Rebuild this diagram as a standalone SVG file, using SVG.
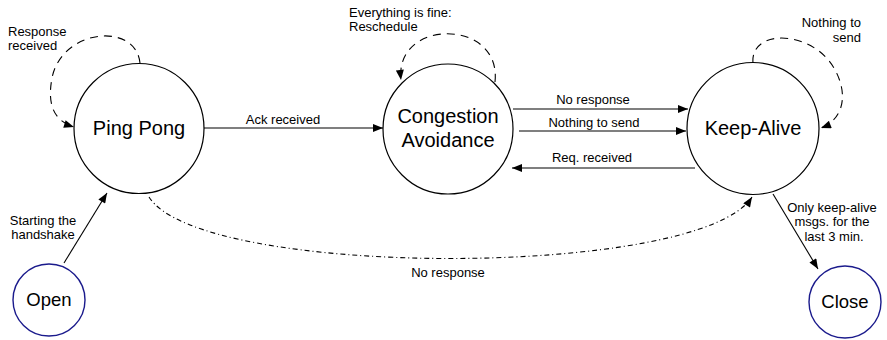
<svg xmlns="http://www.w3.org/2000/svg" width="887" height="340" viewBox="0 0 887 340">
  <defs>
    <marker id="arrow" viewBox="0 0 10 8" refX="10" refY="4" markerWidth="12" markerHeight="8" markerUnits="userSpaceOnUse" orient="auto">
      <path d="M0,0 L10,4 L0,8 Z" fill="#000"/>
    </marker>
    <style>
      .state { fill: #fff; stroke: #000; stroke-width: 1.2; }
      .terminal { fill: #fff; stroke: #1a1a8c; stroke-width: 1.4; }
      .name { font-family: "Liberation Sans", Arial, sans-serif; font-size: 20px; fill: #000; text-anchor: middle; }
      .tname { font-family: "Liberation Sans", Arial, sans-serif; font-size: 18.5px; fill: #000; text-anchor: middle; }
      .lbl { font-family: "Liberation Sans", Arial, sans-serif; font-size: 13px; fill: #000; }
      .edge { fill: none; stroke: #000; stroke-width: 1.1; marker-end: url(#arrow); }
      .loop { fill: none; stroke: #000; stroke-width: 1.1; stroke-dasharray: 8 6; marker-end: url(#arrow); }
      .dashdot { fill: none; stroke: #000; stroke-width: 1.1; stroke-dasharray: 5 3 1 3; marker-end: url(#arrow); }
    </style>
  </defs>

  <rect width="887" height="340" fill="#fff"/>

  <!-- transitions -->
  <g id="connectors">
    <path class="edge" d="M204,128 L383,128"/>
    <path class="edge" d="M513,109 L688,109"/>
    <path class="edge" d="M519,131 L686,131"/>
    <path class="edge" d="M695,168 L512,168"/>
    <path class="edge" d="M64,263 L107,193"/>
    <path class="edge" d="M773,194 L818,269"/>
    <path class="loop" d="M140,63 C136,22 62,28 52,78 C46,110 58,122 74,127"/>
    <path class="loop" d="M495,82 C502,18 394,18 401,80"/>
    <path class="loop" d="M753,63 C750,28 812,30 834,68 C850,96 842,120 821,128"/>
    <path class="dashdot" d="M149,197 C200,279 700,279 752,197"/>

    <text class="lbl" x="283" y="124" text-anchor="middle">Ack received</text>
    <text class="lbl" x="593" y="104" text-anchor="middle">No response</text>
    <text class="lbl" x="594" y="127" text-anchor="middle">Nothing to send</text>
    <text class="lbl" x="592" y="162" text-anchor="middle">Req. received</text>
    <text class="lbl" x="448" y="277" text-anchor="middle">No response</text>
    <text class="lbl" x="8" y="36">Response</text>
    <text class="lbl" x="8" y="50">received</text>
    <text class="lbl" x="349" y="17">Everything is fine:</text>
    <text class="lbl" x="349" y="31">Reschedule</text>
    <text class="lbl" x="861" y="27" text-anchor="end">Nothing to</text>
    <text class="lbl" x="861" y="42" text-anchor="end">send</text>
    <text class="lbl" x="43" y="225" text-anchor="middle">Starting the</text>
    <text class="lbl" x="43" y="239" text-anchor="middle">handshake</text>
    <text class="lbl" x="832" y="212" text-anchor="middle">Only keep-alive</text>
    <text class="lbl" x="832" y="226" text-anchor="middle">msgs. for the</text>
    <text class="lbl" x="834" y="241" text-anchor="middle">last 3 min.</text>
  </g>

  <g id="ping-pong">
    <circle class="state" cx="139" cy="128.5" r="65"/>
    <text class="name" x="139" y="135">Ping Pong</text>
  </g>

  <g id="congestion-avoidance">
    <circle class="state" cx="448" cy="129" r="65"/>
    <text class="name" x="448" y="123">Congestion</text>
    <text class="name" x="448" y="147">Avoidance</text>
  </g>

  <g id="keep-alive">
    <circle class="state" cx="753" cy="128.5" r="66"/>
    <text class="name" x="753" y="135">Keep-Alive</text>
  </g>

  <g id="open">
    <circle class="terminal" cx="49" cy="300" r="36"/>
    <text class="tname" x="49" y="306">Open</text>
  </g>

  <g id="close">
    <circle class="terminal" cx="845" cy="302" r="36"/>
    <text class="tname" x="845" y="308">Close</text>
  </g>
</svg>
